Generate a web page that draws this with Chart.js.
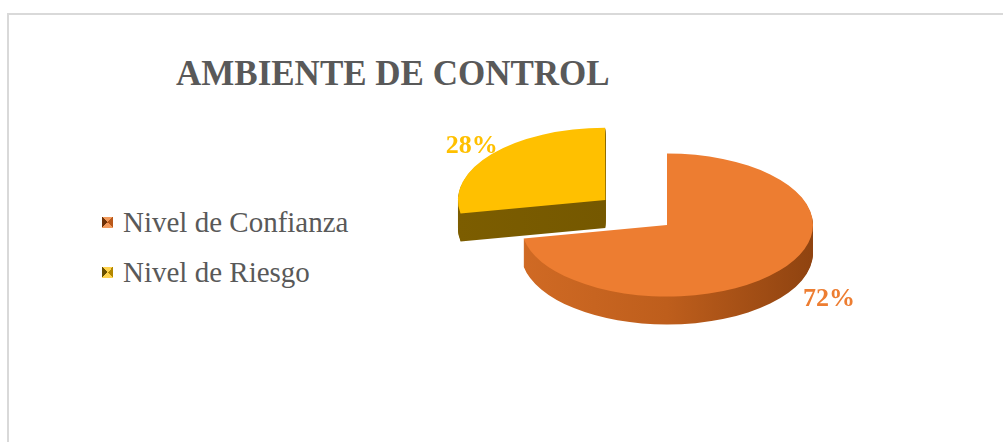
<!DOCTYPE html>
<html>
<head>
<meta charset="utf-8">
<title>Ambiente de Control</title>
<script src="https://cdn.jsdelivr.net/npm/chart.js"></script>
<style>
  html, body { margin: 0; padding: 0; background: #fff; overflow: hidden; }
  body { width: 1003px; height: 442px; position: relative; }
  /* light grey frame, only top and left edges fall inside the page */
  .frame { position: absolute; left: 7px; top: 13px; width: 1010px; height: 440px; border: 2px solid #d9d9d9; }
  .chart-title { position: absolute; left: 176px; top: 56px; font-family: "Liberation Serif", "Times New Roman", serif; font-size: 35px; line-height: 35px; font-weight: bold; color: #595959; white-space: nowrap; }
  #legend { position: absolute; left: 102px; top: 208px; }
  .legend-item { display: flex; align-items: center; height: 29px; margin-bottom: 21px; font-family: "Liberation Serif", "Times New Roman", serif; font-size: 29px; line-height: 29px; color: #595959; white-space: nowrap; }
  .legend-box { width: 11px; height: 11px; margin-right: 10px; flex: none; }
  #pieChart { position: absolute; left: 0; top: 0; }
</style>
</head>
<body>
  <div class="frame"></div>
  <div class="chart-title">AMBIENTE DE CONTROL</div>
  <div id="legend"></div>
  <canvas id="pieChart" width="1003" height="442"></canvas>
<script>
  // datos
  const labels = ['Nivel de Confianza', 'Nivel de Riesgo'];
  const values = [72, 28];

  // colores: cara superior, costado y marcador de leyenda
  const topColors = ['#ED7D31', '#FFC000'];
  const sideStops = [['#D06A24', '#BE5E1C', '#8F4310'], ['#7C5D00', '#755800', '#6A5000']];
  const legendShades = [['#F29A5C', '#B9581A', '#F29A5C', '#6E3208'], ['#FFD34D', '#B38700', '#FFD34D', '#6A5000']];
  const explode = [0, 320];

  const TILT = 0.49;   // aplastado vertical de la vista 3D
  const DEPTH = 28;    // grosor del pastel en px

  // leyenda en html
  const legendEl = document.getElementById('legend');
  labels.forEach(function(label, i) {
    const s = legendShades[i];
    const item = document.createElement('div');
    item.className = 'legend-item';
    const box = document.createElement('span');
    box.className = 'legend-box';
    box.style.background = 'conic-gradient(from -45deg, ' + s[0] + ' 0 90deg, ' + s[1] + ' 90deg 180deg, ' +
      s[2] + ' 180deg 270deg, ' + s[3] + ' 270deg 360deg)';
    item.appendChild(box);
    item.appendChild(document.createTextNode(label));
    legendEl.appendChild(item);
  });

  function tilt(ctx, cx, cy) {
    ctx.translate(cx, cy);
    ctx.scale(1, TILT);
    ctx.translate(-cx, -cy);
  }

  // misma geometria que usa ArcElement (incluye el desplazamiento "offset")
  function sliceGeom(arc) {
    const p = arc.getProps(['x', 'y', 'startAngle', 'endAngle', 'outerRadius', 'circumference']);
    const shift = (arc.options.offset || 0) / 4;
    const mid = (p.startAngle + p.endAngle) / 2;
    return {
      cx: p.x + Math.cos(mid) * shift,
      cy: p.y + Math.sin(mid) * shift,
      r: p.outerRadius + shift * (1 - Math.sin(Math.min(Math.PI, p.circumference))),
      start: p.startAngle,
      end: p.endAngle,
      mid: mid
    };
  }

  const pie3d = {
    id: 'pie3d',
    beforeDatasetsDraw(chart) {
      const ctx = chart.ctx;
      const arcs = chart.getDatasetMeta(0).data;
      const ox = arcs[0].x, oy = arcs[0].y;

      // costados: capas apiladas hacia abajo
      arcs.forEach(function(arc, i) {
        const g = sliceGeom(arc);
        const grad = ctx.createLinearGradient(g.cx - g.r, 0, g.cx + g.r, 0);
        grad.addColorStop(0, sideStops[i][0]);
        grad.addColorStop(0.5, sideStops[i][1]);
        grad.addColorStop(1, sideStops[i][2]);
        for (let k = DEPTH; k >= 1; k--) {
          ctx.save();
          ctx.translate(0, k);
          tilt(ctx, ox, oy);
          ctx.beginPath();
          ctx.moveTo(g.cx, g.cy);
          ctx.arc(g.cx, g.cy, g.r, g.start, g.end);
          ctx.closePath();
          ctx.fillStyle = grad;
          ctx.fill();
          ctx.restore();
        }
      });

      // la cara superior la dibuja chart.js con la misma inclinacion
      ctx.save();
      tilt(ctx, ox, oy);
    },
    afterDatasetsDraw(chart) {
      const ctx = chart.ctx;
      ctx.restore();

      const arcs = chart.getDatasetMeta(0).data;
      const oy = arcs[0].y;
      ctx.save();
      ctx.font = 'bold 26px "Liberation Serif", "Times New Roman", serif';
      ctx.textAlign = 'center';
      ctx.textBaseline = 'middle';
      arcs.forEach(function(arc, i) {
        const g = sliceGeom(arc);
        const sin = Math.sin(g.mid);
        // las etiquetas del frente quedan algo mas lejos (perspectiva)
        const d = g.r + 45 + 30 * sin;
        const x = g.cx + Math.cos(g.mid) * d;
        const y = oy + (g.cy - oy) * TILT + sin * d * TILT + (sin > 0 ? DEPTH * 0.3 : 0);
        ctx.fillStyle = topColors[i];
        ctx.fillText(values[i] + '%', x, y);
      });
      ctx.restore();
    }
  };

  new Chart(document.getElementById('pieChart'), {
    type: 'pie',
    data: {
      labels: labels,
      datasets: [{
        data: values,
        backgroundColor: topColors,
        borderWidth: 0,
        offset: explode,
        radius: 146,
        clip: false
      }]
    },
    options: {
      responsive: false,
      animation: false,
      layout: { padding: { left: 381, right: 50, top: 10, bottom: 2 } },
      plugins: {
        legend: { display: false },
        tooltip: { enabled: false }
      }
    },
    plugins: [pie3d]
  });
</script>
</body>
</html>
